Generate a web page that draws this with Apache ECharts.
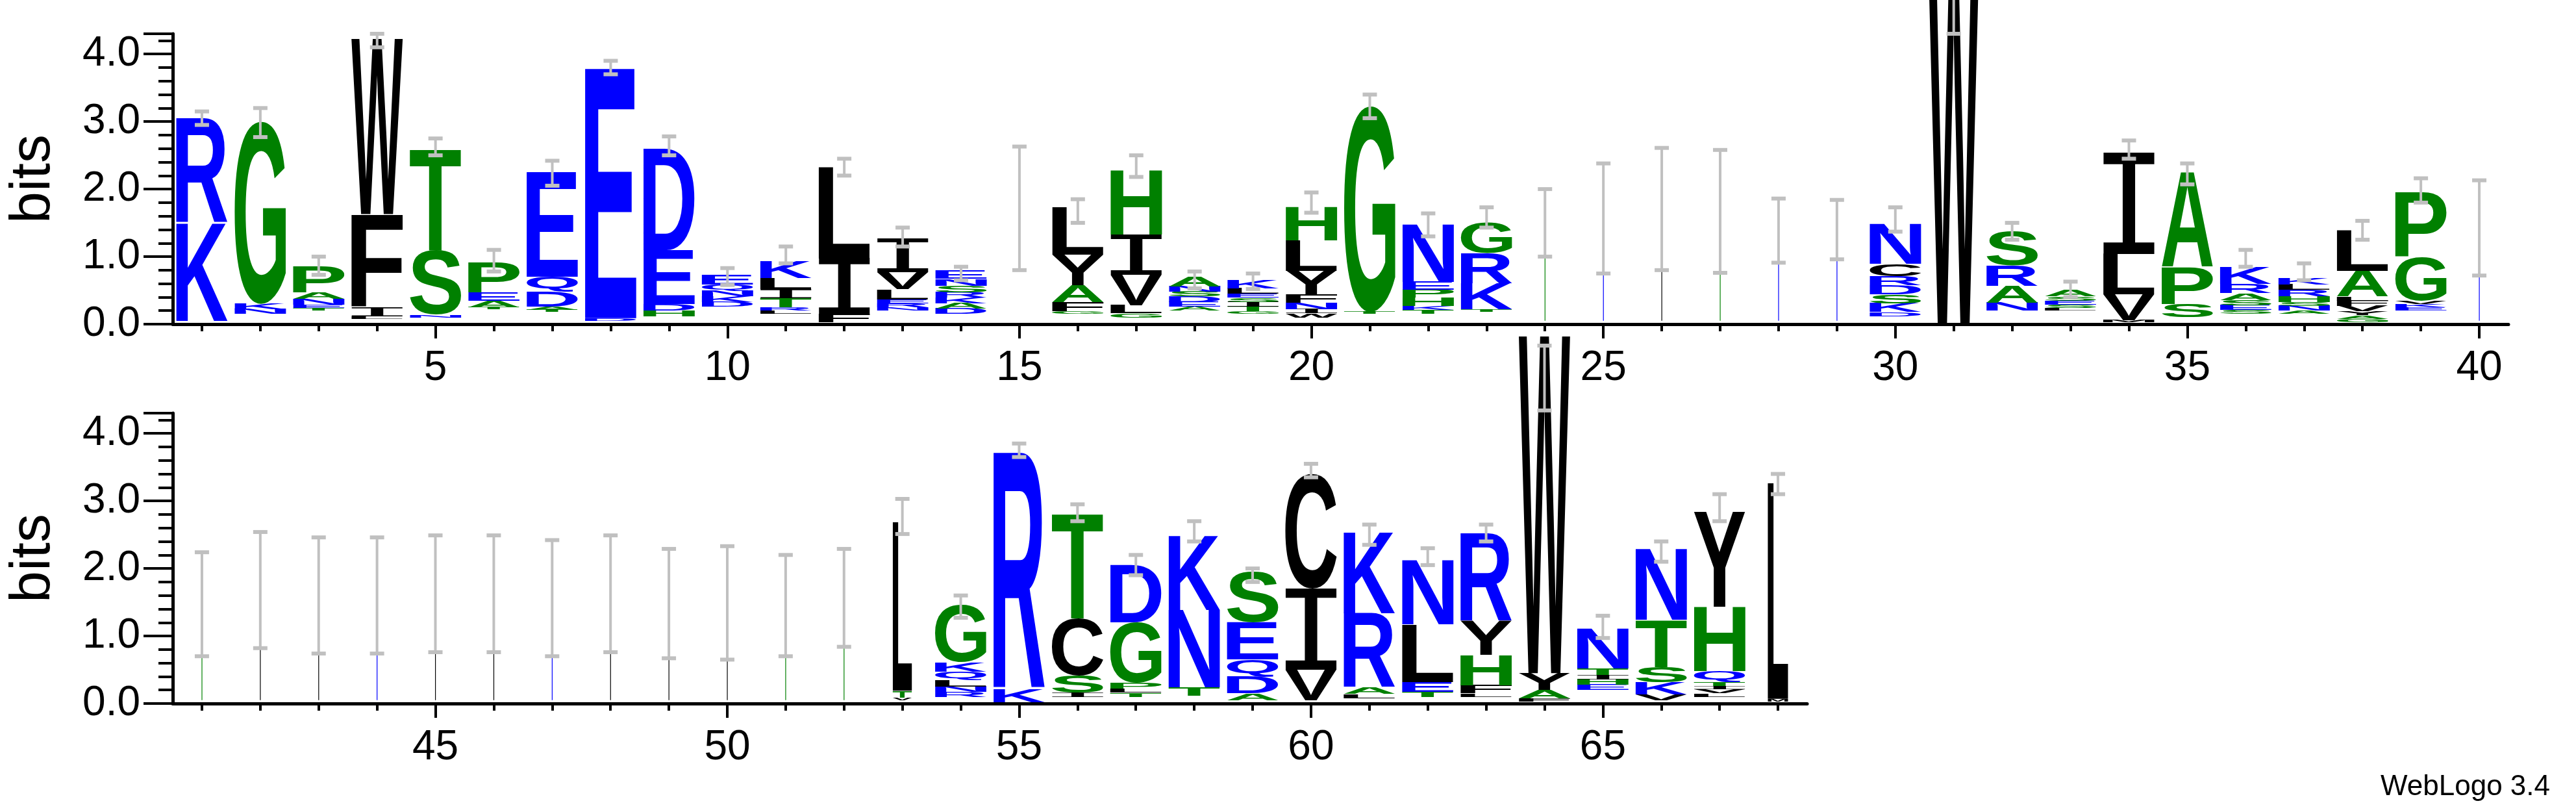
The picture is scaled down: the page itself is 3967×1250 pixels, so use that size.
<!DOCTYPE html>
<html><head><meta charset="utf-8">
<script src="https://cdn.jsdelivr.net/npm/echarts@6/dist/echarts.min.js"></script>
<style>html,body{margin:0;padding:0;background:#fff}#c{width:3967px;height:1250px}</style>
</head><body><div id="c"></div>
<script>
// ---- data ----
const topPositions = [1,2,3,4,5,6,7,8,9,10,11,12,13,14,15,16,17,18,19,20,21,22,23,24,25,26,27,28,29,30,31,32,33,34,35,36,37,38,39,40];
const bottomPositions = [41,42,43,44,45,46,47,48,49,50,51,52,53,54,55,56,57,58,59,60,61,62,63,64,65,66,67,68];
const yTicks = [0,1,2,3,4];
// base offset of each stack (bits)
const topBase = [.05,.15,.2,.08,.1,.22,.18,.05,.12,.26,.15,.03,.2,.15,0,.15,.1,.2,.15,.1,.15,.15,.18,.05,.05,.05,.05,.05,.05,.12,.02,.2,.2,.03,.1,.15,.15,.03,.2,.05];
// stacks bottom -> top, "Letter:height"
const topStacks = [
 "K:1.45 R:1.55","N:.07 K:.08 G:2.7","T:.04 E:.05 N:.08 A:.1 P:.38","L:.04 I:.14 F:1.37 W:2.6",
 "N:.04 S:.95 T:1.5","T:.03 A:.1 E:.12 P:.45","T:.03 A:.05 D:.22 Q:.22 E:1.55","D:.04 E:3.7",
 "H:.08 D:.1 E:.8 D:1.5","D:.07 K:.08 N:.08 Q:.1 E:.15","L:.05 R:.05 T:.13 I:.14 L:.16 K:.25","F:.12 I:.82 L:1.35",
 "N:.05 R:.06 E:.06 L:.15 V:.25 I:.5","D:.08 A:.08 K:.08 R:.08 S:.1 N:.1 E:.12","","G:.04 F:.14 A:.25 Y:.45 L:.7",
 "G:.06 L:.12 V:.45 I:.6 H:.95","A:.06 E:.07 D:.08 S:.07 N:.08 A:.15","G:.04 T:.07 I:.07 S:.06 E:.06 L:.08 K:.12","W:.06 I:.06 N:.1 F:.12 Y:.35 L:.45 H:.5",
 "T:.03 G:3.05","T:.06 K:.06 H:.12 P:.12 E:.12 N:.85","T:.04 K:.38 R:.45 G:.45","S:1.45",
 "E:1.6","L:1.7","G:1.65","D:1.35",
 "E:1.45","D:.06 K:.13 S:.13 D:.14 R:.13 C:.18 N:.6","W:5.5","N:.12 A:.25 R:.3 S:.5",
 "L:.04 S:.05 E:.06 S:.06 A:.1","M:.03 V:.38 L:.6 I:1.5","S:.2 P:.55 A:1.4","S:.06 E:.07 S:.08 A:.1 R:.14 K:.25",
 "A:.05 N:.07 S:.06 H:.08 R:.1 L:.08 K:.1","G:.05 A:.05 Y:.06 V:.08 F:.08 L:.06 A:.38 L:.6","E:.05 K:.05 V:.05 G:.65 P:.95","E:1.4"
];
const topWidth = [.88,.88,.88,.88,.88,.88,.88,.88,.88,.88,.88,.88,.88,.88,.88,.88,.88,.88,.88,.88,.88,.88,.88,.012,.012,.012,.012,.012,.012,.88,.88,.88,.88,.88,.88,.88,.88,.88,.88,.012];
const topErrLo = [2.95,2.77,.73,4.1,2.5,.78,2.05,3.7,2.5,.58,.9,2.2,1.15,.65,.8,1.5,2.18,.53,.52,1.65,3.05,1.3,1.43,1.0,.75,.8,.76,.91,.96,1.37,4.3,1.25,.4,2.45,2.07,.85,.65,1.25,1.8,.72];
const topErrHi = [3.15,3.2,1.0,4.3,2.75,1.1,2.42,3.9,2.78,.83,1.15,2.45,1.43,.85,2.63,1.85,2.5,.78,.75,1.95,3.4,1.64,1.73,2.0,2.38,2.61,2.58,1.86,1.84,1.73,5.3,1.5,.63,2.72,2.38,1.1,.9,1.53,2.16,2.13];

const bottomBase = [.05,.05,.05,.05,.05,.05,.05,.05,.05,.05,.05,.05,.05,.1,.02,.1,.1,.12,.05,.05,.08,.1,.1,.03,.2,.05,.1,.03];
const bottomStacks = [
 "G:1.45","L:1.65","L:1.6","E:1.6","L:1.6","L:1.6","E:1.55","L:1.6","L:1.45","L:1.5","G:1.45","S:1.55",
 "V:.04 T:.1 L:2.5","R:.07 N:.08 L:.1 Q:.12 K:.14 G:.85","K:.2 R:3.5","I:.06 S:.25 C:.85 T:1.55",
 "T:.06 L:.06 P:.08 G:.9 D:.85","T:.12 N:1.15 K:1.1","A:.1 D:.25 Q:.25 E:.55 S:.75","V:.45 I:1.2 C:1.7",
 "L:.06 A:.1 R:1.1 K:1.2","T:.07 E:.15 L:.85 N:.95","L:.05 F:.12 H:.45 Y:.5 R:1.3","F:.05 A:.12 Y:.25 W:5.0",
 "E:.08 H:.08 I:.06 T:.1 N:.6","V:.08 K:.18 S:.23 T:.7 N:1.05","L:.05 V:.06 I:.05 T:.06 Q:.16 H:.95 Y:1.4","M:.04 L:3.2"
];
const bottomWidth = [.012,.012,.012,.012,.012,.012,.012,.012,.012,.012,.012,.012,.33,.88,.88,.88,.88,.88,.88,.88,.88,.88,.88,.88,.88,.88,.88,.35];
const bottomErrLo = [.7,.82,.74,.74,.76,.76,.7,.76,.67,.65,.7,.84,2.51,1.27,3.65,2.7,1.9,2.4,1.8,3.35,2.35,2.05,2.4,4.34,.97,2.1,2.7,3.1];
const bottomErrHi = [2.24,2.54,2.46,2.46,2.49,2.49,2.42,2.49,2.29,2.33,2.2,2.29,3.03,1.6,3.85,2.95,2.2,2.7,2.0,3.55,2.65,2.3,2.65,5.3,1.3,2.4,3.1,3.4];

// ---- build ----
const COLORS = {blue:'#0000ff', green:'#008000', black:'#000000'};
function colorOf(L){
  if ('KRDENQ'.includes(L)) return COLORS.blue;
  if ('GSTAPH'.includes(L)) return COLORS.green;
  return COLORS.black;
}
const FONT = 'bold 200px "Liberation Sans"';
const FONT_I = '200px "DejaVu Sans Mono"';
const fontOf = L => L === 'I' ? FONT_I : FONT;
const ctx = document.createElement('canvas').getContext('2d');
ctx.textBaseline = 'middle';
const metricCache = {};
function metr(L){
  if (!metricCache[L]) {
    ctx.font = fontOf(L);
    const m = ctx.measureText(L);
    metricCache[L] = {l:m.actualBoundingBoxLeft, r:m.actualBoundingBoxRight, a:m.actualBoundingBoxAscent, d:m.actualBoundingBoxDescent};
  }
  return metricCache[L];
}
function buildLetters(stacks, base, width){
  const out = [];
  stacks.forEach((s, i) => {
    let y = base[i];
    s.split(' ').filter(Boolean).forEach(tok => {
      const [L, h] = tok.split(':'); const hh = parseFloat(h);
      out.push([i, y, y + hh, L, width[i]]);
      y += hh;
    });
  });
  return out;
}
function buildErr(lo, hi){ return lo.map((v,i)=>[i, v, hi[i]]); }

function letterRender(params, api){
  const i = api.value(0), y0 = api.value(1), y1 = api.value(2);
  const L = params.data ? params.data[3] : api.value(3);
  const wf = api.value(4);
  const band = api.size([1,0])[0];
  const pb = api.coord([i, y0]), pt = api.coord([i, y1]);
  const wPx = band * wf, hPx = pb[1] - pt[1];
  const xLeft = pb[0] - wPx/2;
  const fill = colorOf(L);
  if (wf < 0.05 || hPx < 1.2) {
    return {type:'rect', shape:{x:xLeft, y:pt[1], width:Math.max(wPx,1.2), height:Math.max(hPx,1)}, style:{fill}};
  }
  const m = metr(L);
  const sx = wPx/(m.l+m.r), sy = hPx/(m.a+m.d);
  return {type:'group', x: xLeft + sx*m.l, y: pt[1] + sy*m.a, scaleX: sx, scaleY: sy,
    children:[{type:'text', style:{text:L, x:0, y:0, font:fontOf(L), fill, align:'left', verticalAlign:'middle', textAlign:'left', textVerticalAlign:'middle'}}]};
}
function errRender(params, api){
  const i = api.value(0);
  const a = api.coord([i, api.value(1)]), b = api.coord([i, api.value(2)]);
  const cw = 11;
  const st = {stroke:'#c0c0c0', lineWidth:4};
  return {type:'group', children:[
    {type:'line', shape:{x1:a[0], y1:a[1], x2:b[0], y2:b[1]}, style:st},
    {type:'line', shape:{x1:a[0]-cw, y1:a[1], x2:a[0]+cw, y2:a[1]}, style:{stroke:'#c0c0c0', lineWidth:6}},
    {type:'line', shape:{x1:b[0]-cw, y1:b[1], x2:b[0]+cw, y2:b[1]}, style:{stroke:'#c0c0c0', lineWidth:6}}
  ]};
}

const labelFont = {fontFamily:'"Liberation Sans Narrow", "Liberation Sans"', fontSize:64, color:'#000'};
function xAxes(gridIndex, cats){
  return [
    {type:'category', gridIndex, data:cats, boundaryGap:true, position:'bottom',
     axisLine:{show:true, lineStyle:{color:'#000', width:5}},
     axisTick:{show:true, alignWithLabel:true, length:11, lineStyle:{color:'#000', width:4}, interval:0},
     axisLabel:{show:false}, splitLine:{show:false}},
    {type:'category', gridIndex, data:cats, boundaryGap:true, position:'bottom',
     axisLine:{show:false},
     axisTick:{show:true, alignWithLabel:true, length:22, lineStyle:{color:'#000', width:4}, interval:(idx,v)=>(+v)%5===0},
     axisLabel:{show:true, interval:(idx,v)=>(+v)%5===0, margin:36, ...labelFont}, splitLine:{show:false}}
  ];
}
function yAxis(gridIndex){
  return {type:'value', gridIndex, min:0, max:4.3, interval:1,
    name:'bits', nameLocation:'middle', nameGap:170, nameTextStyle:{fontFamily:'"Liberation Sans"', fontSize:88, color:'#000'},
    axisLine:{show:true, lineStyle:{color:'#000', width:5}},
    axisTick:{show:true, length:45, lineStyle:{color:'#000', width:4}},
    minorTick:{show:true, splitNumber:5, length:22, lineStyle:{color:'#000', width:4}},
    axisLabel:{margin:50, showMaxLabel:false, formatter:v=>yTicks.includes(v)?v.toFixed(1):'', ...labelFont},
    splitLine:{show:false}, minorSplitLine:{show:false}};
}

const chart = echarts.init(document.getElementById('c'), null, {renderer:'canvas'});
chart.setOption({
  animation:false, backgroundColor:'#fff',
  grid:[{left:263, top:52, width:3600, height:447},{left:263, top:636, width:2520, height:447}],
  xAxis:[...xAxes(0, topPositions.map(String)), ...xAxes(1, bottomPositions.map(String))],
  yAxis:[yAxis(0), yAxis(1)],
  series:[
    {type:'custom', xAxisIndex:0, yAxisIndex:0, clip:false, renderItem:letterRender, data:buildLetters(topStacks, topBase, topWidth), z:2},
    {type:'custom', xAxisIndex:0, yAxisIndex:0, clip:false, renderItem:errRender, data:buildErr(topErrLo, topErrHi), z:3},
    {type:'custom', xAxisIndex:2, yAxisIndex:1, clip:false, renderItem:letterRender, data:buildLetters(bottomStacks, bottomBase, bottomWidth), z:2},
    {type:'custom', xAxisIndex:2, yAxisIndex:1, clip:false, renderItem:errRender, data:buildErr(bottomErrLo, bottomErrHi), z:3}
  ],
  graphic:[{type:'text', right:40, top:1190, style:{text:'WebLogo 3.4', font:'44px "Liberation Sans"', fill:'#000'}}]
});
</script></body></html>
